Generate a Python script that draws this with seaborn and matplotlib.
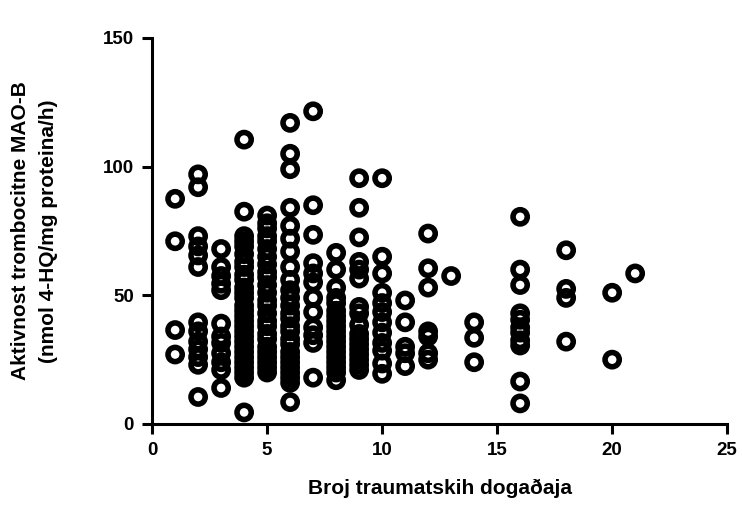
import matplotlib
matplotlib.use("Agg")
import matplotlib.pyplot as plt
import seaborn as sns
import pandas as pd

# broj traumatskih dogadaja (x) -> izmjerene vrijednosti MAO-B (y)
events = [1, 2, 3, 4, 5, 6, 7, 8, 9, 10, 11, 12, 13, 14, 16, 18, 20, 21]

mao_1 = [87.5, 71, 36.5, 27]
mao_2 = [97, 92, 73, 69, 65.5, 61, 39.5, 36, 32, 29, 26, 23, 10.5]
mao_3 = [68, 61, 57.5, 54.5, 52, 39, 34, 31.5, 27.5, 24, 21, 14]
mao_4 = [110.5, 82.5, 73, 71, 69, 66, 63, 61, 58, 56, 53, 51, 49, 46, 44,
         42, 40, 38, 36, 34, 32, 30, 28, 26, 24, 22, 20, 18, 4.5]
mao_5 = [81, 78, 76, 73, 71, 68, 65, 62, 59, 57, 54, 51, 48, 46, 43, 40,
         38, 35, 33, 30, 28, 26, 24, 22, 20]
mao_6 = [117, 105, 99, 84, 77, 72, 67, 61, 56, 52, 49, 46, 43, 41, 38, 36,
         33, 31, 28, 26, 24, 22, 20, 18, 16, 8.5]
mao_7 = [121.5, 85, 73.5, 62.5, 58.5, 55, 49, 43.5, 37.5, 34.5, 31.5, 18]
mao_8 = [66.5, 60, 53, 49, 47, 44, 42, 40, 38, 36, 34, 32, 30, 28, 26,
         24, 22, 20, 17]
mao_9 = [95.5, 84, 72.5, 63, 60, 56.5, 45.5, 43, 38.5, 35, 33, 31, 29,
         27, 25, 23, 21]
mao_10 = [95.5, 65, 58.5, 51, 47, 43.5, 39.5, 35.5, 31.5, 28.5, 23.5, 19.5]
mao_11 = [48, 39.5, 30, 27.5, 22.5]
mao_12 = [74, 60.5, 53, 36, 34, 27.5, 25]
mao_13 = [57.5]
mao_14 = [39.5, 33.5, 24]
mao_16 = [80.5, 60, 54, 43, 40.5, 37.5, 35.5, 32.5, 30.5, 16.5, 8]
mao_18 = [67.5, 52.5, 49, 32]
mao_20 = [51, 25]
mao_21 = [58.5]

columns = [mao_1, mao_2, mao_3, mao_4, mao_5, mao_6, mao_7, mao_8, mao_9,
           mao_10, mao_11, mao_12, mao_13, mao_14, mao_16, mao_18, mao_20, mao_21]

rows = []
for x, ys in zip(events, columns):
    for y in ys:
        rows.append((x, y))
df = pd.DataFrame(rows, columns=["events", "mao"])

sns.set_style("ticks", {"axes.edgecolor": "black", "text.color": "black",
                        "xtick.color": "black", "ytick.color": "black",
                        "axes.labelcolor": "black"})
plt.rcParams["font.family"] = ["Liberation Sans", "DejaVu Sans"]
plt.rcParams["font.weight"] = "bold"

fig = plt.figure(figsize=(7.42, 5.13), dpi=100)
ax = fig.add_axes([0.205, 0.1735, 0.775, 0.7525])

sns.scatterplot(data=df, x="events", y="mao", ax=ax, marker="o", s=105,
                facecolor="none", edgecolor="black", linewidth=4.0,
                clip_on=False, zorder=3)

ax.set_xlim(0, 25)
ax.set_ylim(0, 150)
ax.set_xticks([0, 5, 10, 15, 20, 25])
ax.set_yticks([0, 50, 100, 150])
for side in ["top", "right"]:
    ax.spines[side].set_visible(False)
for side in ["left", "bottom"]:
    ax.spines[side].set_linewidth(2.2)
ax.tick_params(axis="both", direction="out", length=7, width=2.2,
               labelsize=13.5, pad=6, colors="black")
for lbl in ax.get_xticklabels() + ax.get_yticklabels():
    lbl.set_fontweight("bold")

ax.set_xlabel("Broj traumatskih dogaðaja", fontsize=15, fontweight="bold",
              labelpad=14)
ax.set_ylabel("Aktivnost trombocitne MAO-B\n(nmol 4-HQ/mg proteina/h)",
              fontsize=15, fontweight="bold", labelpad=32, linespacing=1.6)

fig.savefig("out.png", dpi=100)
